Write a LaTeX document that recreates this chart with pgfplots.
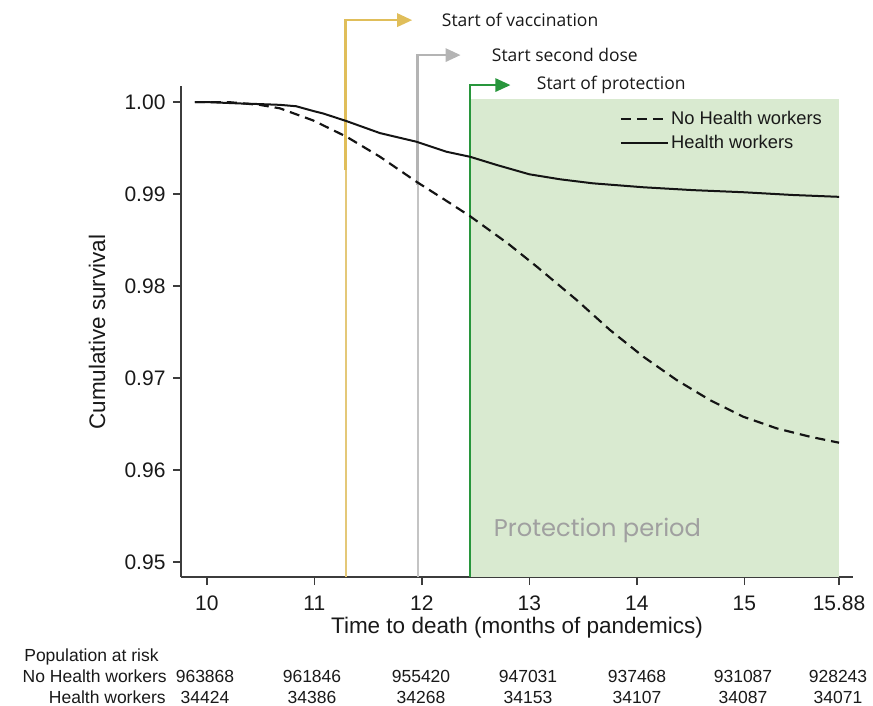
\documentclass[border=0pt]{standalone}
\usepackage{pgfplots}
\pgfplotsset{compat=1.18}
\usepackage{fontspec}
\setmainfont{Liberation Sans}
\newfontfamily\opensans{Open Sans}
\newfontfamily\poppins{Poppins}
\usetikzlibrary{arrows.meta}
\definecolor{yelA}{RGB}{224,190,90}
\definecolor{yelB}{RGB}{228,200,120}
\definecolor{gryA}{RGB}{180,180,180}
\definecolor{gryB}{RGB}{196,196,196}
\definecolor{grnL}{RGB}{40,150,60}
\definecolor{grnF}{RGB}{217,234,208}
\definecolor{axc}{RGB}{60,60,60}
\definecolor{txt}{RGB}{25,25,25}
\definecolor{curve}{RGB}{20,20,20}
\begin{document}
\begin{tikzpicture}
\begin{axis}[
  scale only axis, width=403.2pt, height=294.6pt,
  xmin=9.76, xmax=16.01, ymin=0.94837, ymax=1.00175,
  axis lines*=left,
  axis line style={axc, line width=0.9pt},
  clip=false,
  tick align=outside,
  major tick length=4.8pt,
  tick style={axc, line width=0.9pt},
  xtick={10,11,12,13,14,15,15.88},
  xticklabels={10,11,12,13,14,15,15.88},
  ytick={0.95,0.96,0.97,0.98,0.99,1.00},
  yticklabels={0.95,0.96,0.97,0.98,0.99,1.00},
  ticklabel style={font=\fontsize{12.6}{15}\selectfont, text=txt},
  xticklabel style={yshift=-3pt},
  yticklabel style={xshift=-1pt},
  legend style={draw=none, fill=none, at={(0.645,0.961)}, anchor=north west,
    font=\fontsize{11}{13}\selectfont, text=txt, row sep=2pt,
    nodes={inner sep=1.5pt}},
  legend cell align=left,
  legend image code/.code={\draw[#1] (0pt,0pt) -- (28pt,0pt);},
]
% protection period shading
\addplot[draw=none, fill=grnF, forget plot] coordinates {(12.45,0.94837) (15.88,0.94837) (15.88,1.00033) (12.45,1.00033)} -- cycle;
% vertical markers
\draw[yelB, line width=1.2pt] (axis cs:11.29,0.94837) -- (axis cs:11.29,0.9926);
\draw[yelA, line width=1.3pt, -{Triangle[length=9pt,width=8pt]}] (axis cs:11.29,0.9926) |- (axis cs:11.91,1.00891);
\draw[gryB, line width=1.2pt] (axis cs:11.96,0.94837) -- (axis cs:11.96,0.9910);
\draw[gryA, line width=1.3pt, -{Triangle[length=9pt,width=8pt]}] (axis cs:11.96,0.9910) |- (axis cs:12.36,1.00511);
\draw[grnL, line width=1.1pt, -{Triangle[length=9pt,width=8pt]}] (axis cs:12.45,0.94837) |- (axis cs:12.824,1.00185);
% curves
\addplot[curve, line width=1.3pt, dash pattern=on 6pt off 3.6pt] coordinates {
(9.89,1.0000) (10.2,1.0000) (10.49,0.9997) (10.68,0.99932) (10.99,0.9980) (11.30,0.99623)
(11.61,0.99406) (11.95,0.99134) (12.20,0.98948) (12.45,0.98758) (12.80,0.98463)
(13.07,0.98210) (13.44,0.97848) (13.75,0.97522) (14.06,0.97232) (14.37,0.96978)
(14.68,0.96760) (14.99,0.96579) (15.30,0.96453) (15.61,0.96362) (15.88,0.96297)};
\addlegendentry{No Health workers}
\addplot[curve, line width=1.2pt] coordinates {
(9.89,1.0000) (10.0,1.0000) (10.31,0.99985) (10.5,0.99978) (10.68,0.9997) (10.83,0.99955)
(11.0,0.9990) (11.08,0.99877) (11.30,0.99793) (11.61,0.99663) (11.95,0.99569) (12.23,0.9946)
(12.45,0.99405) (12.70,0.99315) (13.0,0.99215) (13.29,0.99160) (13.59,0.99117) (14.06,0.99074)
(14.52,0.99043) (14.99,0.99020) (15.45,0.98990) (15.88,0.98970)};
\addlegendentry{Health workers}
\end{axis}
\begin{scope}[x=0.6pt, y=-0.6pt, shift={(-108.6pt,346.2pt)}]
\node[anchor=west, text=txt, font=\opensans\fontsize{10.5}{12}\selectfont] at (436,20) {Start of vaccination};
\node[anchor=west, text=txt, font=\opensans\fontsize{10.5}{12}\selectfont] at (486,55) {Start second dose};
\node[anchor=west, text=txt, font=\opensans\fontsize{10.5}{12}\selectfont] at (531,85) {Start of protection};
\node[anchor=west, text={rgb,255:red,160;green,160;blue,160}, font=\poppins\fontsize{14.5}{17}\selectfont] at (488,530) {Protection period};
\node[rotate=90, text=txt, font=\fontsize{13.5}{16}\selectfont] at (97,332) {Cumulative survival};
\node[text=txt, font=\fontsize{13.5}{16}\selectfont] at (517,628) {Time to death (months of pandemics)};
\begin{scope}[every node/.style={text=txt, font=\fontsize{10.5}{12}\selectfont, inner sep=0pt, anchor=base}]
\node[anchor=base west] at (24,661) {Population at risk};
\node[anchor=base east] at (167,682) {No Health workers};
\node[anchor=base east] at (166,703) {Health workers};
\node at (205,682) {963868}; \node at (312,682) {961846}; \node at (421,682) {955420};
\node at (528,682) {947031}; \node at (637,682) {937468}; \node at (743,682) {931087};
\node at (838,682) {928243};
\node at (205,703) {34424}; \node at (312,703) {34386}; \node at (421,703) {34268};
\node at (528,703) {34153}; \node at (637,703) {34107}; \node at (743,703) {34087};
\node at (838,703) {34071};
\end{scope}
\end{scope}
\pgfresetboundingbox
\path[use as bounding box] (-108.6pt,-76.8pt) rectangle (415.2pt,346.2pt);
\end{tikzpicture}
\end{document}
